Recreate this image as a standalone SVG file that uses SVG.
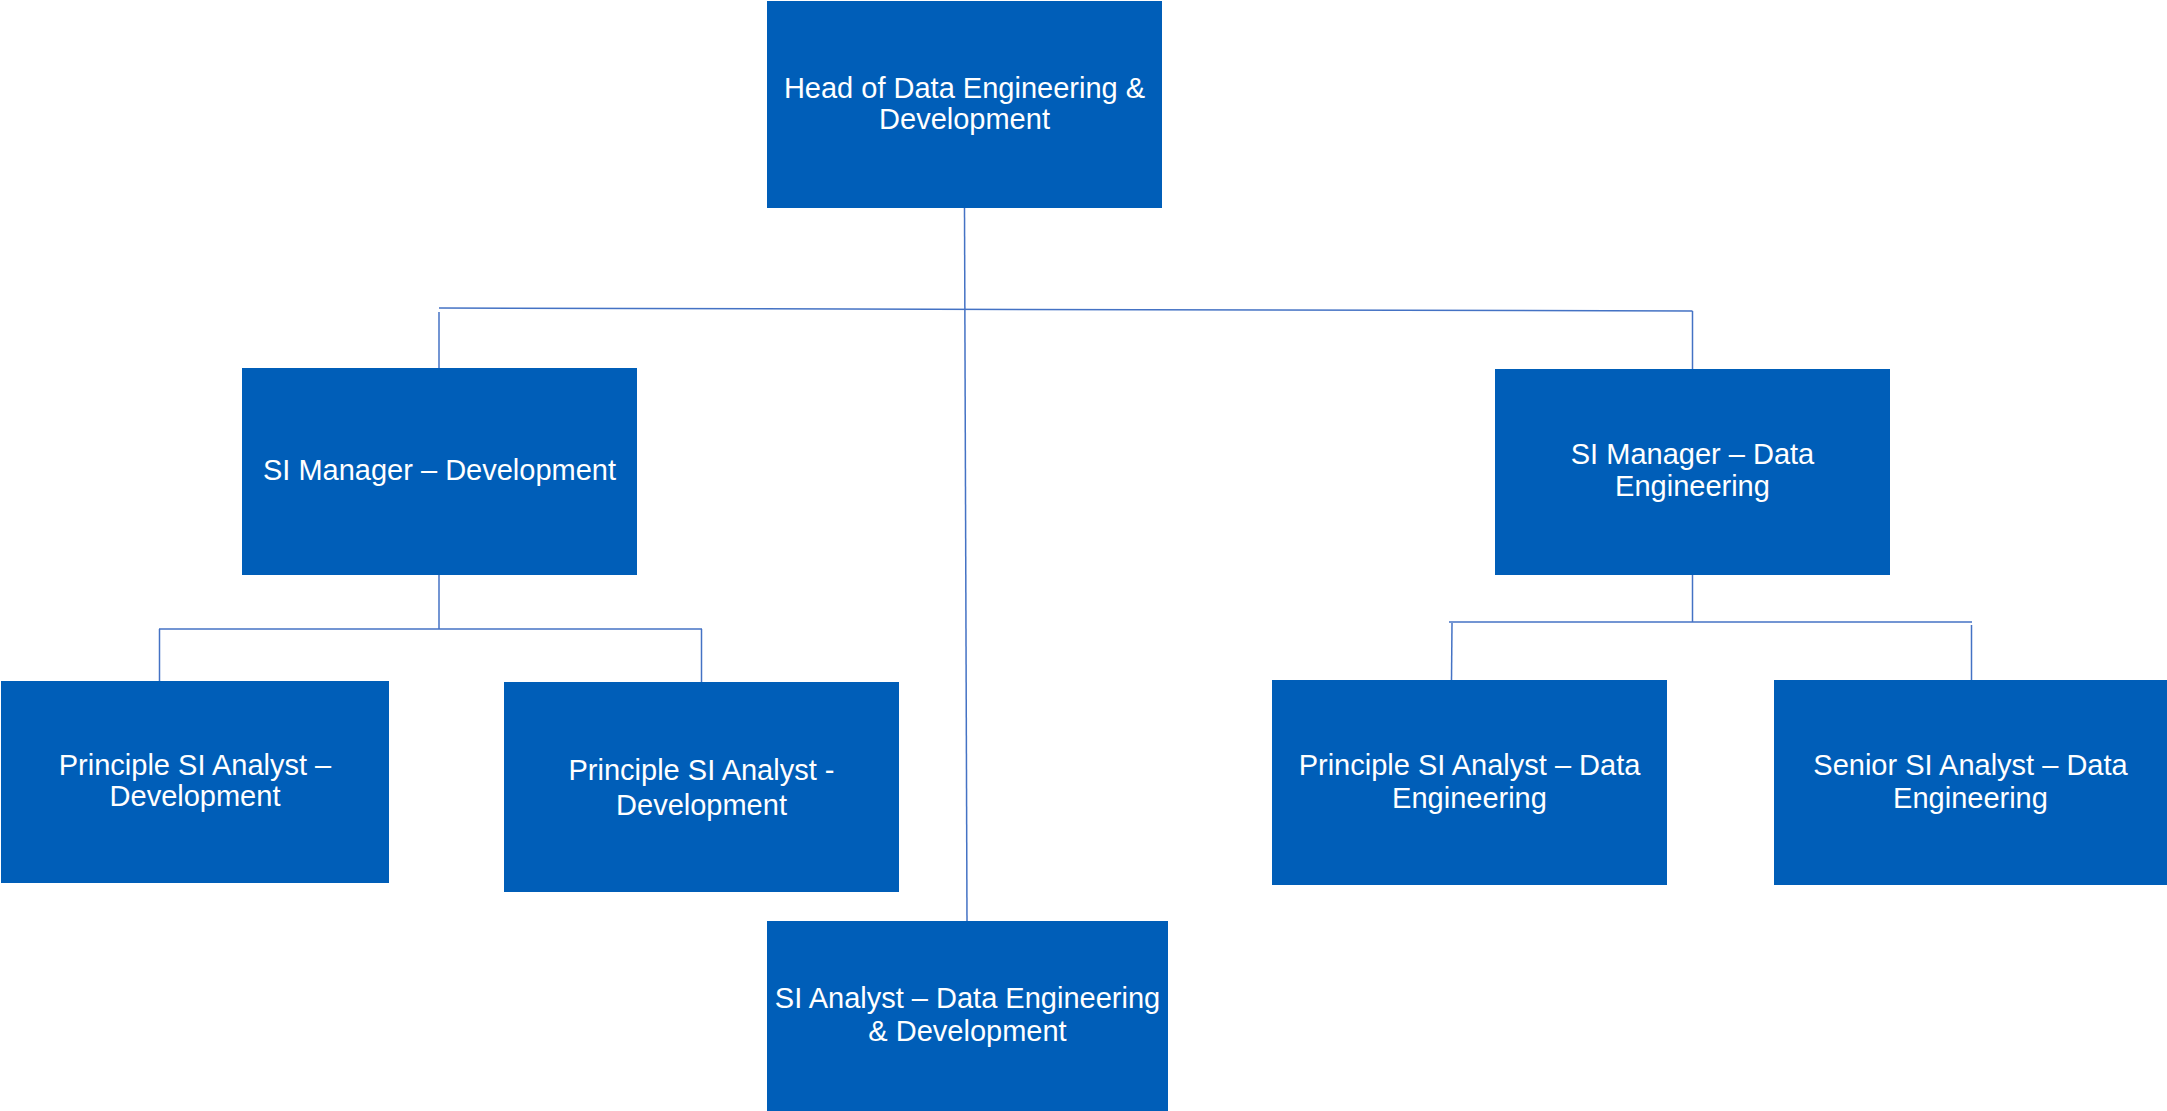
<svg xmlns="http://www.w3.org/2000/svg" width="2167" height="1111" viewBox="0 0 2167 1111">
  <style>
    .box { fill: #005EB8; }
    .lbl { fill: #FFFFFF; font-family: "Liberation Sans", Arial, sans-serif; font-size: 29px; text-anchor: middle; }
    .conn { fill: none; stroke: #4472C4; stroke-width: 1.5; }
  </style>
  <rect width="2167" height="1111" fill="#FFFFFF"/>
  <g id="connectors">
    <path class="conn" d="M964.5,208 L967,921"/>
    <path class="conn" d="M439,308 L1692.5,311"/>
    <path class="conn" d="M439,312 L439,368"/>
    <path class="conn" d="M1692.5,311 L1692.5,369"/>
    <path class="conn" d="M439,575 L439,629"/>
    <path class="conn" d="M159,629 L702,629"/>
    <path class="conn" d="M159.5,629 L159.5,681"/>
    <path class="conn" d="M701.5,629 L701.5,682"/>
    <path class="conn" d="M1692.5,575 L1692.5,622"/>
    <path class="conn" d="M1449,622 L1972,622"/>
    <path class="conn" d="M1452,623 L1451.5,680"/>
    <path class="conn" d="M1971.5,625 L1971.5,680"/>
  </g>
  <g id="head">
    <rect class="box" x="767" y="1" width="395" height="207"/>
    <text class="lbl" x="964.5" y="98">Head of Data Engineering &amp;</text>
    <text class="lbl" x="964.5" y="129">Development</text>
  </g>
  <g id="manager-dev">
    <rect class="box" x="242" y="368" width="395" height="207"/>
    <text class="lbl" x="439.5" y="480">SI Manager – Development</text>
  </g>
  <g id="manager-de">
    <rect class="box" x="1495" y="369" width="395" height="206"/>
    <text class="lbl" x="1692.5" y="464">SI Manager – Data</text>
    <text class="lbl" x="1692.5" y="496">Engineering</text>
  </g>
  <g id="psa-dev-1">
    <rect class="box" x="1" y="681" width="388" height="202"/>
    <text class="lbl" x="195" y="775">Principle SI Analyst –</text>
    <text class="lbl" x="195" y="806">Development</text>
  </g>
  <g id="psa-dev-2">
    <rect class="box" x="504" y="682" width="395" height="210"/>
    <text class="lbl" x="701.5" y="780">Principle SI Analyst -</text>
    <text class="lbl" x="701.5" y="815">Development</text>
  </g>
  <g id="psa-de">
    <rect class="box" x="1272" y="680" width="395" height="205"/>
    <text class="lbl" x="1469.5" y="775">Principle SI Analyst – Data</text>
    <text class="lbl" x="1469.5" y="808">Engineering</text>
  </g>
  <g id="senior-de">
    <rect class="box" x="1774" y="680" width="393" height="205"/>
    <text class="lbl" x="1970.5" y="775">Senior SI Analyst – Data</text>
    <text class="lbl" x="1970.5" y="808">Engineering</text>
  </g>
  <g id="si-analyst">
    <rect class="box" x="767" y="921" width="401" height="190"/>
    <text class="lbl" x="967.5" y="1008">SI Analyst – Data Engineering</text>
    <text class="lbl" x="967.5" y="1041">&amp; Development</text>
  </g>
</svg>
